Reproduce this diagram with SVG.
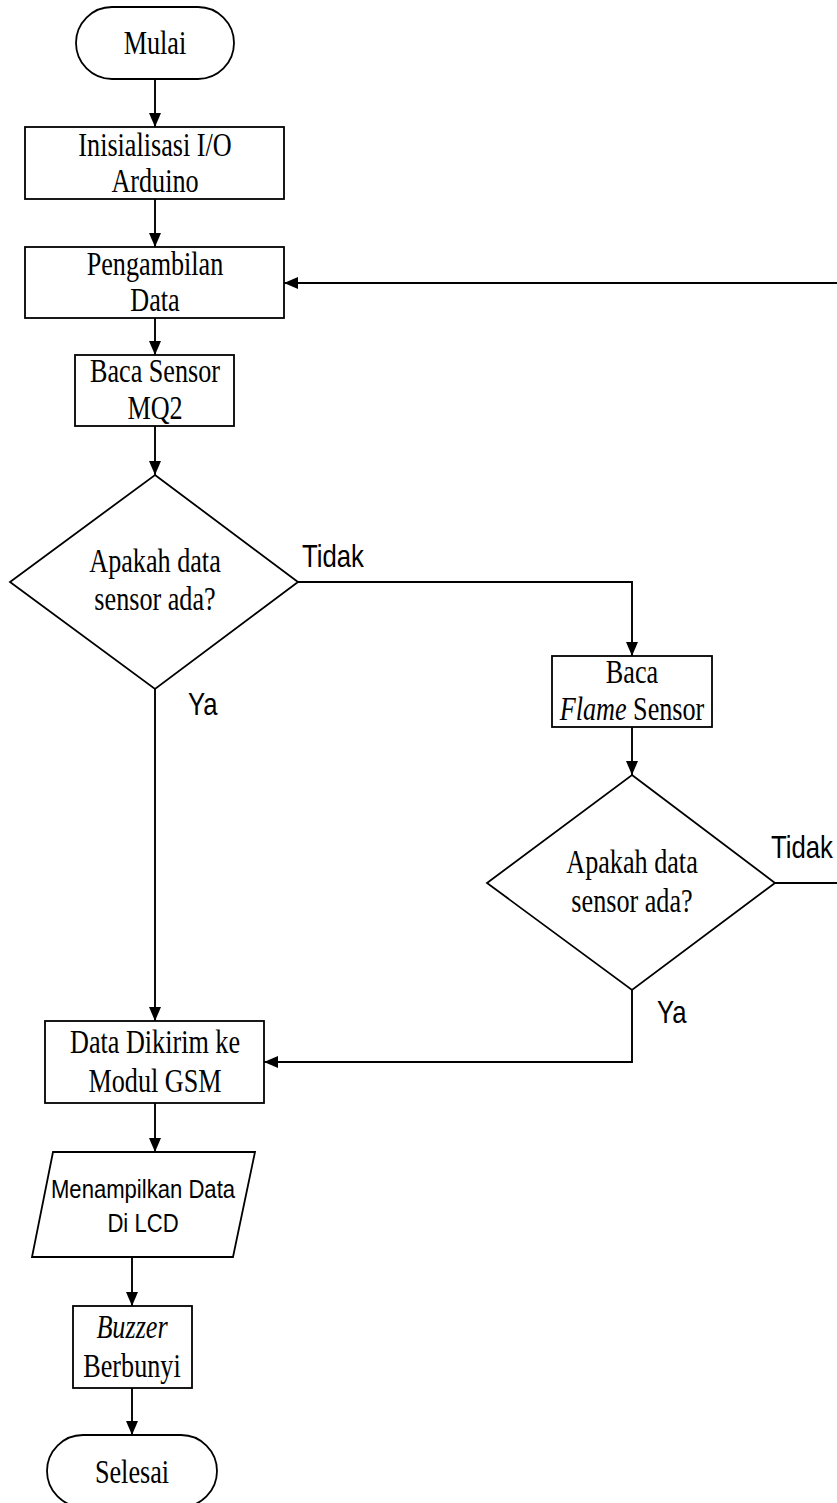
<svg xmlns="http://www.w3.org/2000/svg" width="837" height="1503" viewBox="0 0 837 1503">
<style>
.s{fill:#fff;stroke:#000;stroke-width:1.8}
.c{fill:none;stroke:#000;stroke-width:1.9}
.t{font-family:"Liberation Serif","Times New Roman",serif;font-size:34px;fill:#000;text-anchor:middle}
.l{font-family:"Liberation Sans",Arial,sans-serif;font-size:31px;fill:#000}
.p{font-family:"Liberation Sans",Arial,sans-serif;font-size:26px;fill:#000;text-anchor:middle}
</style>
<defs>
<marker id="a" markerUnits="userSpaceOnUse" markerWidth="14" markerHeight="12" refX="14" refY="6" orient="auto">
<path d="M0,0 L14,6 L0,12 Z" fill="#000"/>
</marker>
</defs>
<g id="connectors">
<line class="c" x1="155" y1="79" x2="155" y2="127" marker-end="url(#a)"/>
<line class="c" x1="155" y1="199" x2="155" y2="247" marker-end="url(#a)"/>
<line class="c" x1="155" y1="318" x2="155" y2="355" marker-end="url(#a)"/>
<line class="c" x1="155" y1="426" x2="155" y2="475" marker-end="url(#a)"/>
<line class="c" x1="837" y1="283" x2="284" y2="283" marker-end="url(#a)"/>
<polyline class="c" points="298,582 632,582 632,656" marker-end="url(#a)"/>
<line class="c" x1="155" y1="689" x2="155" y2="1021" marker-end="url(#a)"/>
<line class="c" x1="632" y1="727" x2="632" y2="775" marker-end="url(#a)"/>
<line class="c" x1="775" y1="883" x2="837" y2="883"/>
<polyline class="c" points="632,990 632,1062 264,1062" marker-end="url(#a)"/>
<line class="c" x1="155" y1="1103" x2="155" y2="1152" marker-end="url(#a)"/>
<line class="c" x1="132" y1="1257" x2="132" y2="1306" marker-end="url(#a)"/>
<line class="c" x1="132" y1="1388" x2="132" y2="1435" marker-end="url(#a)"/>
<g transform="translate(302 567) scale(0.83 1)"><text class="l" x="0" y="0">Tidak</text></g>
<g transform="translate(188 715) scale(0.83 1)"><text class="l" x="0" y="0">Ya</text></g>
<g transform="translate(771 858) scale(0.83 1)"><text class="l" x="0" y="0">Tidak</text></g>
<g transform="translate(657 1023) scale(0.83 1)"><text class="l" x="0" y="0">Ya</text></g>
</g>
<g id="mulai">
<rect class="s" x="76" y="7" width="158" height="72" rx="36" ry="36"/>
<g transform="translate(155 0) scale(0.77 1)"><text class="t" x="0" y="54">Mulai</text></g>
</g>
<g id="inisialisasi">
<rect class="s" x="25" y="127" width="259" height="72"/>
<g transform="translate(155 0) scale(0.77 1)"><text class="t" x="0" y="156">Inisialisasi I/O</text><text class="t" x="0" y="192">Arduino</text></g>
</g>
<g id="pengambilan">
<rect class="s" x="25" y="247" width="259" height="71"/>
<g transform="translate(155 0) scale(0.77 1)"><text class="t" x="0" y="275">Pengambilan</text><text class="t" x="0" y="311">Data</text></g>
</g>
<g id="baca-mq2">
<rect class="s" x="75" y="355" width="159" height="71"/>
<g transform="translate(155 0) scale(0.77 1)"><text class="t" x="0" y="382">Baca Sensor</text><text class="t" x="0" y="419">MQ2</text></g>
</g>
<g id="decision1">
<polygon class="s" points="155,475 298,582 155,689 10,582"/>
<g transform="translate(155 0) scale(0.77 1)"><text class="t" x="0" y="572">Apakah data</text><text class="t" x="0" y="610">sensor ada?</text></g>
</g>
<g id="baca-flame">
<rect class="s" x="552" y="656" width="160" height="71"/>
<g transform="translate(632 0) scale(0.77 1)"><text class="t" x="0" y="683">Baca</text><text class="t" x="0" y="720"><tspan font-style="italic">Flame</tspan> Sensor</text></g>
</g>
<g id="decision2">
<polygon class="s" points="632,775 775,883 632,990 487,883"/>
<g transform="translate(632 0) scale(0.77 1)"><text class="t" x="0" y="873">Apakah data</text><text class="t" x="0" y="912">sensor ada?</text></g>
</g>
<g id="gsm">
<rect class="s" x="45" y="1021" width="219" height="82"/>
<g transform="translate(155 0) scale(0.77 1)"><text class="t" x="0" y="1053">Data Dikirim ke</text><text class="t" x="0" y="1092">Modul GSM</text></g>
</g>
<g id="lcd">
<polygon class="s" points="53,1152 255,1152 233,1257 32,1257"/>
<g transform="translate(143 0) scale(0.85 1)"><text class="p" x="0" y="1198">Menampilkan Data</text><text class="p" x="0" y="1232">Di LCD</text></g>
</g>
<g id="buzzer">
<rect class="s" x="73" y="1306" width="119" height="82"/>
<g transform="translate(132 0) scale(0.77 1)"><text class="t" x="0" y="1338" font-style="italic">Buzzer</text><text class="t" x="0" y="1377">Berbunyi</text></g>
</g>
<g id="selesai">
<rect class="s" x="47" y="1435" width="170" height="72" rx="36" ry="36"/>
<g transform="translate(132 0) scale(0.77 1)"><text class="t" x="0" y="1483">Selesai</text></g>
</g>
</svg>
